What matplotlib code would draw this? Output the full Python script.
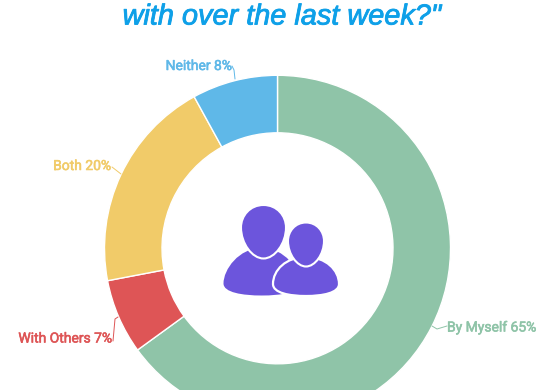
import matplotlib
matplotlib.use("Agg")
import matplotlib.pyplot as plt
import matplotlib.patheffects as pe
from matplotlib.patches import PathPatch
from matplotlib.path import Path

categories = ["By Myself", "With Others", "Both", "Neither"]
values = [65, 7, 20, 8]
colors = ["#8fc4a8", "#de5556", "#f1cb69", "#5fb8e8"]
title_text = 'with over the last week?"'

W, H = 554, 390
fig = plt.figure(figsize=(W / 100, H / 100), dpi=100, facecolor="white")
ax = fig.add_axes([0, 0, 1, 1])
ax.set_xlim(0, W)
ax.set_ylim(H, 0)
ax.axis("off")

CX, CY, R, INNER = 277.5, 248.3, 173, 115.5

# inverted y axis mirrors the pie, so counterclock=True reads clockwise on screen
ax.pie(values, colors=colors, center=(CX, CY), radius=R, startangle=-90,
       counterclock=True, frame=True,
       wedgeprops=dict(width=R - INNER, edgecolor="white", linewidth=1.0))
ax.set_xlim(0, W)
ax.set_ylim(H, 0)
ax.set_aspect("auto")
ax.axis("off")

fig.text(281.5 / W, 1 - 16.5 / H, title_text, color="#0ea0e8", fontsize=20.8,
         family="Liberation Sans", style="italic", ha="center", va="center",
         path_effects=[pe.withStroke(linewidth=0.6, foreground="#0ea0e8")])

# label text anchors and leader lines (pixels)
labels = [
    ("By Myself 65%", 447, 327.5, "left", [(432, 326), (437, 329), (447, 326)]),
    ("With Others 7%", 112, 338.5, "right", [(113, 341), (115, 319), (118, 317)]),
    ("Both 20%", 111, 166, "right", [(112, 167), (121, 174)]),
    ("Neither 8%", 232, 66, "right", [(232, 66), (234, 70), (235, 79)]),
]
for (text, x, y, ha, line), col in zip(labels, colors):
    ax.text(x, y, text, color=col, fontsize=10, family="Roboto",
            ha=ha, va="center",
            path_effects=[pe.withStroke(linewidth=0.4, foreground=col)])
    ax.plot(*zip(*line), color=col, lw=0.7, solid_capstyle="round")

# people icon
PURPLE = "#6c55dc"
M, C, Z = Path.MOVETO, Path.CURVE4, Path.CLOSEPOLY


def body(x0, x1, top, bot, z, ec="none", lw=0):
    xc = (x0 + x1) / 2
    w = x1 - x0
    ym = bot - 12
    verts = [(x0, ym), (x0, ym - 14), (xc - w * .3, top), (xc, top),
             (xc + w * .3, top), (x1, ym - 14), (x1, ym),
             (x1, bot - 3), (xc + w * .25, bot), (xc, bot),
             (xc - w * .25, bot), (x0, bot - 3), (x0, ym), (x0, ym)]
    codes = [M] + [C] * 12 + [Z]
    ax.add_patch(PathPatch(Path(verts, codes), fc=PURPLE, ec=ec, lw=lw, zorder=z))


def head(cx, top, w, h, z, ec="white", lw=1.5):
    bot = top + h
    hw = w / 2
    verts = [(cx, top), (cx + hw * .6, top), (cx + hw, top + h * .2), (cx + hw, top + h * .42),
             (cx + hw, top + h * .72), (cx + hw * .5, bot), (cx, bot),
             (cx - hw * .5, bot), (cx - hw, top + h * .72), (cx - hw, top + h * .42),
             (cx - hw, top + h * .2), (cx - hw * .6, top), (cx, top), (cx, top)]
    codes = [M] + [C] * 12 + [Z]
    ax.add_patch(PathPatch(Path(verts, codes), fc=PURPLE, ec=ec, lw=lw, zorder=z))


body(223.5, 300, 248, 295.5, 5)
head(263.5, 205, 45, 53.5, 6)
body(273, 339, 257, 296, 7, ec="white", lw=1.6)
head(306, 222.5, 36, 44, 8)

fig.savefig("out.png", dpi=100, facecolor="white")
